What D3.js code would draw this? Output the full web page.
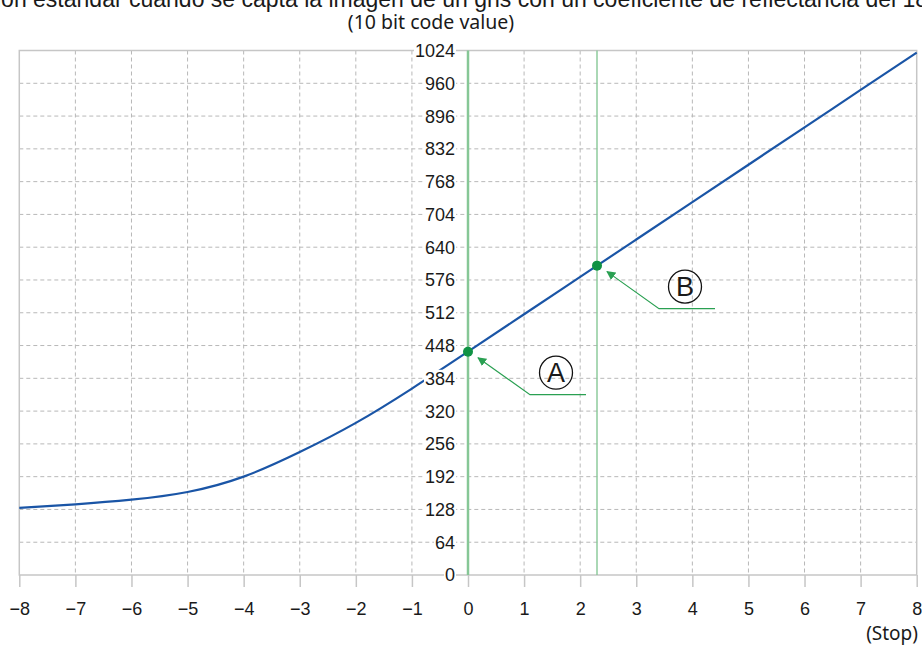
<!doctype html>
<html>
<head>
<meta charset="utf-8">
<style>
  body { margin: 0; background: #fff; }
  text { font-family: "Liberation Sans", Arial, sans-serif; fill: #1a1a1a; }
</style>
<script src="https://d3js.org/d3.v7.min.js"></script>
</head>
<body>
<svg width="922" height="646"></svg>
<script>
// data
var stops = [-8, -7, -6, -5, -4, -3, -2, -1, 0, 1, 2, 3, 4, 5, 6, 7, 8];
var codeValues = [131, 138, 147, 162, 192, 240, 297, 364, 436, 509, 582, 655, 728, 801, 874, 947, 1020];
var xTicks = [-8, -7, -6, -5, -4, -3, -2, -1, 0, 1, 2, 3, 4, 5, 6, 7, 8];
var yTicks = [0, 64, 128, 192, 256, 320, 384, 448, 512, 576, 640, 704, 768, 832, 896, 960, 1024];
var markerLabels = ["A", "B"];
var markerStops = [0, 2.3];
var markerValues = [436, 604];

var svg = d3.select("svg");

var x = d3.scaleLinear().domain([-8, 8]).range([19.3, 916.7]);
var y = d3.scaleLinear().domain([0, 1024]).range([575, 50.5]);

var grey = "#c6c6c6", dash = "#b8b8b8";
var green = "#2aa052", lightGreen = "#86c796", blue = "#1a55a6";

// title line, cut by the top edge as in the source picture
svg.append("text")
   .attr("x", -4)
   .attr("y", 7)
   .attr("font-size", "23px")
   .text("ión estándar cuando se capta la imagen de un gris con un coeficiente de reflectancia del 18%");

svg.append("text")
   .attr("x", 431)
   .attr("y", 29)
   .attr("text-anchor", "middle")
   .attr("font-size", "19.5px")
   .style("font-family", "'Noto Sans', sans-serif")
   .text("(10 bit code value)");

// dashed grid
svg.append("g").selectAll("line")
   .data(xTicks.filter(function(d) { return d > -8 && d < 8; }))
   .enter().append("line")
   .attr("x1", function(d) { return x(d); })
   .attr("x2", function(d) { return x(d); })
   .attr("y1", y(1024)).attr("y2", y(0))
   .attr("stroke", dash).attr("stroke-dasharray", "4,3");

svg.append("g").selectAll("line")
   .data(yTicks.filter(function(d) { return d > 0 && d < 1024; }))
   .enter().append("line")
   .attr("x1", x(-8)).attr("x2", x(8))
   .attr("y1", function(d) { return y(d); })
   .attr("y2", function(d) { return y(d); })
   .attr("stroke", dash).attr("stroke-dasharray", "4,3");

// frame
svg.append("rect")
   .attr("x", x(-8)).attr("y", y(1024))
   .attr("width", x(8) - x(-8)).attr("height", y(0) - y(1024))
   .attr("fill", "none").attr("stroke", grey).attr("stroke-width", 1.5);

// bottom axis
var xAxis = svg.append("g")
   .attr("transform", "translate(0," + y(0) + ")")
   .call(d3.axisBottom(x).tickValues(xTicks).tickSize(12).tickPadding(15)
        .tickFormat(function(d) { return String(d).replace("-", "\u2212"); }));
xAxis.select(".domain").remove();
xAxis.selectAll(".tick line").attr("stroke", grey).attr("stroke-width", 1.5);
xAxis.selectAll(".tick text").attr("font-size", "18px").attr("fill", "#1a1a1a")
     .style("font-family", "'Liberation Sans', Arial, sans-serif");

svg.append("text")
   .attr("x", 918).attr("y", 640)
   .attr("text-anchor", "end")
   .attr("font-size", "19px")
   .style("font-family", "'Noto Sans', sans-serif")
   .text("(Stop)");

// curve
var line = d3.line()
   .x(function(d, i) { return x(stops[i]); })
   .y(function(d) { return y(d); })
   .curve(d3.curveNatural);

svg.append("path")
   .datum(codeValues)
   .attr("d", line)
   .attr("fill", "none")
   .attr("stroke", blue)
   .attr("stroke-width", 2.2);

// left axis labels with white backing
var yLab = svg.append("g").selectAll("g")
   .data(yTicks)
   .enter().append("g")
   .attr("transform", function(d) { return "translate(" + (x(0) - 13) + "," + y(d) + ")"; });
yLab.append("text")
   .attr("text-anchor", "end")
   .attr("dy", "0.36em")
   .attr("font-size", "18px")
   .text(function(d) { return d; });
yLab.insert("rect", "text")
   .each(function() {
       var b = this.nextSibling.getBBox();
       d3.select(this).attr("x", b.x - 1).attr("y", b.y + 1)
         .attr("width", b.width + 2).attr("height", b.height - 2);
   })
   .attr("fill", "#fff");

// reference stops
svg.append("g").selectAll("line")
   .data(markerStops)
   .enter().append("line")
   .attr("x1", function(d) { return x(d); })
   .attr("x2", function(d) { return x(d); })
   .attr("y1", y(1024)).attr("y2", y(0))
   .attr("stroke", lightGreen)
   .attr("stroke-width", function(d, i) { return i === 0 ? 2.5 : 1.4; });

svg.append("defs").append("marker")
   .attr("id", "arr")
   .attr("viewBox", "0 0 10 10")
   .attr("refX", 9).attr("refY", 5)
   .attr("markerWidth", 9).attr("markerHeight", 9)
   .attr("markerUnits", "userSpaceOnUse")
   .attr("orient", "auto")
   .append("path").attr("d", "M0,0L10,5L0,10z").attr("fill", green);

markerStops.forEach(function(s, i) {
    var px = x(s), py = y(markerValues[i]);
    svg.append("path")
       .attr("d", "M" + (px + 118) + "," + (py + 43) + "H" + (px + 62) + "L" + (px + 10) + "," + (py + 6))
       .attr("fill", "none")
       .attr("stroke", green)
       .attr("stroke-width", 1.2)
       .attr("marker-end", "url(#arr)");
    svg.append("circle")
       .attr("cx", px).attr("cy", py).attr("r", 5)
       .attr("fill", "#109244");
    svg.append("circle")
       .attr("cx", px + 88).attr("cy", py + 21).attr("r", 16.5)
       .attr("fill", "none").attr("stroke", "#111").attr("stroke-width", 1.3);
    svg.append("text")
       .attr("x", px + 88).attr("y", py + 21)
       .attr("dy", "0.36em")
       .attr("text-anchor", "middle")
       .attr("font-size", "27px")
       .text(markerLabels[i]);
});
</script>
</body>
</html>
